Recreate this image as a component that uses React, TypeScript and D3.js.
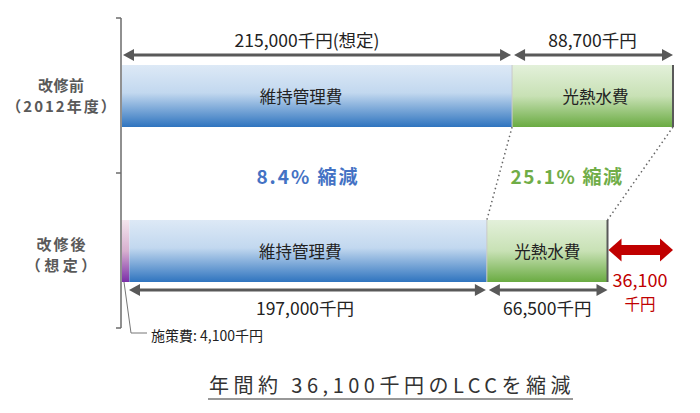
import React from "react";
import * as d3 from "d3";

const categories = ["改修前", "改修後"];
const categorySub = ["（2012年度）", "（想定）"];
const policyCost = [0, 4100];
const maintenanceCost = [215000, 197000];
const utilityCost = [88700, 66500];
const segmentNames = ["施策費", "維持管理費", "光熱水費"];
const topLabels = ["215,000千円(想定)", "88,700千円"];
const bottomLabels = ["197,000千円", "66,500千円"];
const reductionLabels = ["8.4% 縮減", "25.1% 縮減"];
const savingValue = ["36,100", "千円"];
const policyLabel = "施策費: 4,100千円";
const title = "年間約 36,100千円のLCCを縮減";

const W = 700, H = 413;
const FONT = "'Noto Sans CJK JP', 'Noto Sans', sans-serif";

function Arrow({ x1, x2, y, color = "#595959", sw = 3, hw = 11, hh = 6 }: any) {
  return (
    <g>
      <line x1={x1 + hw - 1} x2={x2 - hw + 1} y1={y} y2={y} stroke={color} strokeWidth={sw} />
      <polygon points={`${x1},${y} ${x1 + hw},${y - hh} ${x1 + hw},${y + hh}`} fill={color} />
      <polygon points={`${x2},${y} ${x2 - hw},${y - hh} ${x2 - hw},${y + hh}`} fill={color} />
    </g>
  );
}

export default function App() {
  const totals = categories.map((_, i) => policyCost[i] + maintenanceCost[i] + utilityCost[i]);
  const x = d3.scaleLinear().domain([0, d3.max(totals) as number]).range([122, 673]);
  const y = d3.scalePoint<string>().domain(categories).range([96, 251]);
  const bh = 62;

  const stacks = categories.map((c, i) => {
    const vals = [policyCost[i], maintenanceCost[i], utilityCost[i]];
    let acc = 0;
    return vals.map((v, k) => {
      const s = acc;
      acc += v;
      return { name: segmentNames[k], x0: x(s), x1: x(acc), k, v };
    });
  });
  const fills = ["url(#gPurple)", "url(#gBlue)", "url(#gGreen)"];
  const labelDx = [[0, -16, 3], [0, -8, 0]];

  const y0 = y(categories[0]) as number;
  const y1 = y(categories[1]) as number;
  const catY = [[91, 112], [250, 271]];
  const catLs = [[0.5, 2], [2, 3.5]];

  return (
    <svg width={W} height={H} style={{ position: "absolute", left: 0, top: 0, background: "#fff" }} fontFamily={FONT}>
      <defs>
        <linearGradient id="gBlue" x1="0" y1="0" x2="0" y2="1">
          <stop offset="0" stopColor="#dde9f6" />
          <stop offset="0.45" stopColor="#c2d8ef" />
          <stop offset="1" stopColor="#2f74bf" />
        </linearGradient>
        <linearGradient id="gGreen" x1="0" y1="0" x2="0" y2="1">
          <stop offset="0" stopColor="#e3f0da" />
          <stop offset="0.5" stopColor="#c8e1b5" />
          <stop offset="1" stopColor="#6aab42" />
        </linearGradient>
        <linearGradient id="gPurple" x1="0" y1="0" x2="0" y2="1">
          <stop offset="0" stopColor="#f4e6ee" />
          <stop offset="0.5" stopColor="#d7b0cf" />
          <stop offset="1" stopColor="#7a2ea8" />
        </linearGradient>
      </defs>

      {/* axis bracket */}
      <g stroke="#6b6b6b" strokeWidth={1.5} fill="none">
        <line x1={121} x2={121} y1={18} y2={328} />
        <line x1={116} x2={121} y1={18} y2={18} />
        <line x1={116} x2={121} y1={173} y2={173} />
        <line x1={116} x2={121} y1={328} y2={328} />
      </g>

      {/* category labels */}
      {categories.map((c, i) => (
        <g key={c} fill="#595959" fontWeight="bold" fontSize={15} textAnchor="middle">
          <text x={61 + catLs[i][0] / 2} y={catY[i][0]} letterSpacing={catLs[i][0]}>{c}</text>
          <text x={61 + catLs[i][1] / 2} y={catY[i][1]} letterSpacing={catLs[i][1]}>{categorySub[i]}</text>
        </g>
      ))}

      {/* bars */}
      {stacks.map((segs, i) => {
        const cy = y(categories[i]) as number;
        return (
          <g key={i}>
            {segs.filter((s) => s.v > 0).map((s) => (
              <rect key={s.k} x={s.x0} y={cy - bh / 2} width={s.x1 - s.x0} height={bh} fill={fills[s.k]} />
            ))}
            {segs.filter((s) => s.k === 2).map((s) => (
              <g key="b">
                <line x1={s.x0} x2={s.x0} y1={cy - bh / 2} y2={cy + bh / 2} stroke="#c8c8c8" strokeWidth={1} />
                <line x1={s.x1} x2={s.x1} y1={cy - bh / 2} y2={cy + bh / 2} stroke="#595959" strokeWidth={2} />
              </g>
            ))}
            {segs.filter((s) => s.k > 0).map((s) => (
              <text key={"t" + s.k} x={(s.x0 + s.x1) / 2 + labelDx[i][s.k]} y={cy + 7} textAnchor="middle" fontSize={16.5} fill="#222">{s.name}</text>
            ))}
          </g>
        );
      })}

      {/* dotted connectors */}
      <line x1={stacks[0][1].x1} y1={y0 + bh / 2} x2={stacks[1][1].x1} y2={y1 - bh / 2} stroke="#666" strokeWidth={1.5} strokeDasharray="1.5,3" />
      <line x1={stacks[0][2].x1} y1={y0 + bh / 2} x2={stacks[1][2].x1} y2={y1 - bh / 2} stroke="#666" strokeWidth={1.5} strokeDasharray="1.5,3" />

      {/* top arrows */}
      <Arrow x1={x(0) + 1} x2={stacks[0][1].x1 - 1} y={55} />
      <Arrow x1={stacks[0][1].x1 + 2} x2={stacks[0][2].x1} y={55} />
      <text x={307} y={47} textAnchor="middle" fontSize={17.5} fill="#222">{topLabels[0]}</text>
      <text x={(stacks[0][1].x1 + stacks[0][2].x1) / 2} y={47} textAnchor="middle" fontSize={17.5} fill="#222">{topLabels[1]}</text>

      {/* bottom arrows */}
      <Arrow x1={x(0) + 7} x2={stacks[1][1].x1 - 1} y={290} />
      <Arrow x1={stacks[1][1].x1 + 2} x2={stacks[1][2].x1} y={290} />
      <text x={305} y={315} textAnchor="middle" fontSize={17.5} fill="#222">{bottomLabels[0]}</text>
      <text x={(stacks[1][1].x1 + stacks[1][2].x1) / 2} y={315} textAnchor="middle" fontSize={17.5} fill="#222">{bottomLabels[1]}</text>

      {/* reductions */}
      <text x={308} y={184} textAnchor="middle" fontSize={19} fontWeight="bold" fill="#4472c4" letterSpacing={2}>{reductionLabels[0]}</text>
      <text x={567} y={184} textAnchor="middle" fontSize={19} fontWeight="bold" fill="#70ad47" letterSpacing={1.6}>{reductionLabels[1]}</text>

      {/* red saving arrow */}
      {(() => {
        const ax1 = stacks[1][2].x1 + 1;
        const ax2 = x(totals[0]);
        const ay = 250;
        return (
          <g fill="#c00000">
            <rect x={ax1 + 10} y={ay - 5} width={ax2 - ax1 - 20} height={10} />
            <polygon points={`${ax1},${ay} ${ax1 + 13},${ay - 11.5} ${ax1 + 13},${ay + 11.5}`} />
            <polygon points={`${ax2},${ay} ${ax2 - 13},${ay - 11.5} ${ax2 - 13},${ay + 11.5}`} />
            <text x={640} y={287} textAnchor="middle" fontSize={18}>{savingValue[0]}</text>
            <text x={640} y={310} textAnchor="middle" fontSize={15.5}>{savingValue[1]}</text>
          </g>
        );
      })()}

      {/* policy cost leader */}
      <polyline points={`124,${y1 + bh / 2} 131,333 147,333`} fill="none" stroke="#777" strokeWidth={1} />
      <text x={151} y={341} fontSize={14} fill="#222">{policyLabel}</text>

      {/* title */}
      <text x={392} y={393} textAnchor="middle" fontSize={20} fill="#333" letterSpacing={4.5}>{title}</text>
      <line x1={208} x2={573} y1={399} y2={399} stroke="#333" strokeWidth={1.2} />
    </svg>
  );
}
